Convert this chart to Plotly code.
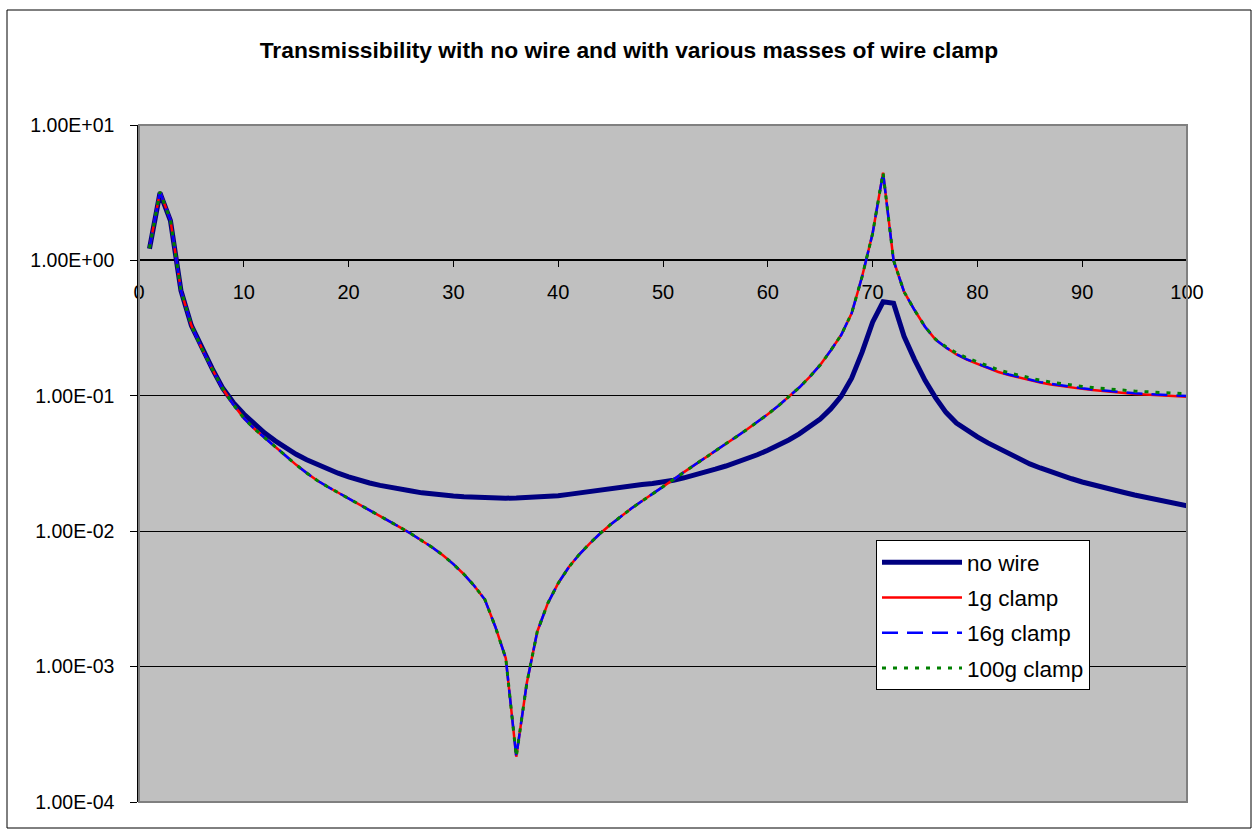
import plotly.graph_objects as go

freq_hz = list(range(1, 101))

no_wire = [1.22, 3.15, 1.97, 0.60, 0.33, 0.225, 0.158, 0.1135, 0.0891, 0.0733,
           0.0617, 0.0531, 0.0465, 0.041, 0.037, 0.0337, 0.031, 0.0287, 0.0268, 0.0252,
           0.0238, 0.0227, 0.0218, 0.0210, 0.0203, 0.0198, 0.0192, 0.01875, 0.01845, 0.0182,
           0.0180, 0.01782, 0.0177, 0.01758, 0.01754, 0.01758, 0.0177, 0.01786, 0.0181, 0.0183,
           0.0187, 0.0192, 0.0197, 0.0202, 0.0206, 0.0211, 0.0216, 0.0221, 0.0225, 0.0230,
           0.0238, 0.0248, 0.0259, 0.0272, 0.0287, 0.0303, 0.0321, 0.0342, 0.0367, 0.0396,
           0.043, 0.0472, 0.0523, 0.0589, 0.0674, 0.080, 0.099, 0.135, 0.21, 0.35,
           0.495, 0.482, 0.275, 0.185, 0.13, 0.097, 0.0755, 0.063, 0.0555, 0.0498,
           0.0449, 0.0409, 0.0372, 0.0339, 0.0314, 0.0293, 0.0274, 0.0258, 0.0244, 0.0231,
           0.022, 0.021, 0.0201, 0.0193, 0.0185, 0.0178, 0.0172, 0.0166, 0.016, 0.0154]

clamp_16g = [1.23, 3.21, 1.99, 0.60, 0.33, 0.224, 0.157, 0.1127, 0.0861, 0.0684,
             0.0571, 0.0490, 0.0415, 0.0356, 0.0309, 0.0269, 0.0237, 0.0213, 0.0193, 0.0174,
             0.01567, 0.01416, 0.01285, 0.0117, 0.01059, 0.00953, 0.00855, 0.00759, 0.00664, 0.00571,
             0.00481, 0.00394, 0.00313, 0.00197, 0.00115, 0.000216, 0.000753, 0.00181, 0.00293, 0.00413,
             0.00541, 0.00672, 0.00811, 0.00962, 0.01121, 0.01295, 0.01476, 0.01671, 0.0188, 0.02131,
             0.02407, 0.02732, 0.0309, 0.0349, 0.0393, 0.0443, 0.0499, 0.0563, 0.064, 0.0731,
             0.0842, 0.0978, 0.1151, 0.138, 0.169, 0.216, 0.281, 0.407, 0.76, 1.58,
             4.44, 1.0, 0.587, 0.43, 0.324, 0.26, 0.227, 0.203, 0.186, 0.173,
             0.161, 0.151, 0.1435, 0.137, 0.131, 0.1262, 0.1224, 0.119, 0.116, 0.1135,
             0.1113, 0.1093, 0.1076, 0.106, 0.1045, 0.1034, 0.1023, 0.1013, 0.1004, 0.0997]

clamp_1g = [1.23, 3.21, 1.99, 0.60, 0.33, 0.224, 0.157, 0.1127, 0.0861, 0.0684,
            0.0571, 0.0490, 0.0415, 0.0356, 0.0309, 0.0269, 0.0237, 0.0213, 0.0193, 0.0174,
            0.01567, 0.01416, 0.01285, 0.0117, 0.01059, 0.00953, 0.00855, 0.00759, 0.00664, 0.00571,
            0.00481, 0.00394, 0.00313, 0.00197, 0.00115, 0.000216, 0.000753, 0.00181, 0.00293, 0.00413,
            0.00541, 0.00672, 0.00811, 0.00962, 0.01121, 0.01295, 0.01476, 0.01671, 0.0188, 0.02131,
            0.02407, 0.02732, 0.0309, 0.0349, 0.0393, 0.0443, 0.0499, 0.0563, 0.064, 0.0731,
            0.0842, 0.0978, 0.1151, 0.138, 0.169, 0.216, 0.281, 0.407, 0.76, 1.58,
            4.44, 1.0, 0.587, 0.43, 0.324, 0.26, 0.227, 0.202, 0.185, 0.172,
            0.160, 0.150, 0.1425, 0.136, 0.130, 0.1252, 0.1214, 0.118, 0.115, 0.1125,
            0.1102, 0.1082, 0.1064, 0.1048, 0.1032, 0.1021, 0.1009, 0.0999, 0.0989, 0.0982]

clamp_100g = [1.23, 3.21, 1.99, 0.60, 0.33, 0.224, 0.157, 0.1127, 0.0861, 0.0684,
              0.0571, 0.0490, 0.0415, 0.0356, 0.0309, 0.0269, 0.0237, 0.0213, 0.0193, 0.0174,
              0.01567, 0.01416, 0.01285, 0.0117, 0.01059, 0.00953, 0.00855, 0.00759, 0.00664, 0.00571,
              0.00481, 0.00394, 0.00313, 0.00197, 0.00115, 0.000216, 0.000753, 0.00181, 0.00293, 0.00413,
              0.00541, 0.00672, 0.00811, 0.00962, 0.01121, 0.01295, 0.01476, 0.01671, 0.0188, 0.02131,
              0.02407, 0.02732, 0.0309, 0.0349, 0.0393, 0.0443, 0.0499, 0.0563, 0.064, 0.0731,
              0.0842, 0.0978, 0.1151, 0.138, 0.169, 0.216, 0.281, 0.407, 0.76, 1.58,
              4.44, 1.0, 0.587, 0.43, 0.324, 0.262, 0.23, 0.207, 0.1905, 0.178,
              0.1658, 0.1555, 0.148, 0.1412, 0.1351, 0.1302, 0.1263, 0.1229, 0.1198, 0.1174,
              0.1151, 0.1131, 0.1114, 0.1098, 0.1083, 0.1072, 0.1062, 0.1052, 0.1043, 0.1037]

series_names = ["no wire", "1g clamp", "16g clamp", "100g clamp"]
y_tick_vals = [1e-4, 1e-3, 1e-2, 1e-1, 1e0, 1e1]
y_tick_text = ["1.00E-04", "1.00E-03", "1.00E-02", "1.00E-01", "1.00E+00", "1.00E+01"]
x_tick_vals = [0, 10, 20, 30, 40, 50, 60, 70, 80, 90, 100]
title_text = "Transmissibility with no wire and with various masses of wire clamp"

FONT = "Liberation Sans, Arial, sans-serif"

W, H = 1258, 833
L, R, T, B = 139, 1187, 125, 802

fig = go.Figure()
styles = [
    dict(color="#000080", width=5, dash="solid"),
    dict(color="#FF0000", width=2.5, dash="solid"),
    dict(color="#0000FF", width=2.5, dash="16px,9px"),
    dict(color="#008000", width=3, dash="4px,7px"),
]
for name, ys, st in zip(series_names, [no_wire, clamp_1g, clamp_16g, clamp_100g], styles):
    fig.add_trace(go.Scatter(x=freq_hz, y=ys, mode="lines", name=name,
                             legendgroup=name, line=st))

pw, ph = R - L, B - T
def px(x):
    return (x - L) / pw
def py(y):
    return (B - y) / ph

fig.update_layout(
    width=W, height=H,
    margin=dict(l=L, r=W - R, t=T, b=H - B, pad=0),
    paper_bgcolor="white",
    plot_bgcolor="#C0C0C0",
    font=dict(family=FONT, color="black", size=20),
    title=dict(text="<b>" + title_text + "</b>", x=0.5, xref="container", xanchor="center",
               y=1 - 50 / H, yref="container", yanchor="middle",
               font=dict(size=22.8, family=FONT, color="black")),
    showlegend=True,
    legend=dict(x=px(876), y=py(540), xanchor="left", yanchor="top",
                bgcolor="white", bordercolor="black", borderwidth=1,
                font=dict(size=22.5, family=FONT, color="black"),
                itemwidth=80, tracegroupgap=3, traceorder="grouped"),
    xaxis=dict(range=[0, 100], tickvals=x_tick_vals, showgrid=False, zeroline=False,
               anchor="free", position=0.8, side="bottom",
               showline=True, linecolor="black", linewidth=1.5,
               ticks="outside", ticklen=6, tickcolor="black", tickwidth=1,
               ticklabelstandoff=8, layer="below traces",
               tickfont=dict(size=20, family=FONT, color="black")),
    yaxis=dict(type="log", range=[-4, 1], tickvals=y_tick_vals, ticktext=y_tick_text,
               showgrid=True, gridcolor="black", gridwidth=1, zeroline=False,
               showline=True, linecolor="black", linewidth=1.5,
               ticks="outside", ticklen=7, tickcolor="black", tickwidth=1,
               ticklabelstandoff=12, layer="below traces",
               tickfont=dict(size=19.5, family=FONT, color="black")),
)

# plot-area border (gray) and chart-area border (black)
fig.add_shape(type="rect", xref="paper", yref="paper", x0=0, x1=1, y0=0, y1=1,
              line=dict(color="#808080", width=2), layer="above")
fig.add_shape(type="rect", xref="paper", yref="paper",
              x0=px(7), x1=px(1251), y0=py(828), y1=py(10),
              line=dict(color="black", width=1), layer="below")

fig.write_html("out.html")
